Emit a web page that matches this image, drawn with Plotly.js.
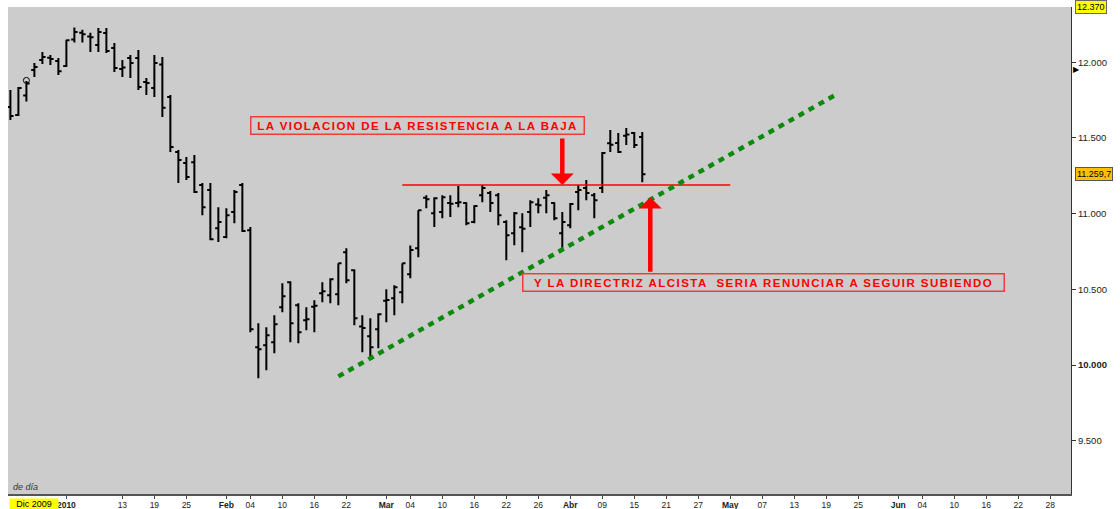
<!DOCTYPE html>
<html>
<head>
<meta charset="utf-8">
<script src="https://cdn.plot.ly/plotly-3.0.1.min.js"></script>
<style>
html,body{margin:0;padding:0;background:#ffffff;}
#chart{width:1120px;height:509px;}
text.annotation-text[style*="254, 0, 0"]{letter-spacing:1.45px;}
</style>
</head>
<body>
<div id="chart"></div>
<script>
// ---- data (IBEX 35, daily bars) ----
const dates = ['2009-12-22','2009-12-23','2009-12-24','2009-12-28','2009-12-29','2009-12-30','2009-12-31',
'2010-01-04','2010-01-05','2010-01-06','2010-01-07','2010-01-08','2010-01-11','2010-01-12','2010-01-13','2010-01-14','2010-01-15',
'2010-01-18','2010-01-19','2010-01-20','2010-01-21','2010-01-22','2010-01-25','2010-01-26','2010-01-27','2010-01-28','2010-01-29',
'2010-02-01','2010-02-02','2010-02-03','2010-02-04','2010-02-05','2010-02-08','2010-02-09','2010-02-10','2010-02-11','2010-02-12',
'2010-02-15','2010-02-16','2010-02-17','2010-02-18','2010-02-19','2010-02-22','2010-02-23','2010-02-24','2010-02-25','2010-02-26',
'2010-03-01','2010-03-02','2010-03-03','2010-03-04','2010-03-05','2010-03-08','2010-03-09','2010-03-10','2010-03-11','2010-03-12',
'2010-03-15','2010-03-16','2010-03-17','2010-03-18','2010-03-19','2010-03-22','2010-03-23','2010-03-24','2010-03-25','2010-03-26',
'2010-03-29','2010-03-30','2010-03-31','2010-04-01','2010-04-06','2010-04-07','2010-04-08','2010-04-09',
'2010-04-12','2010-04-13','2010-04-14','2010-04-15','2010-04-16'];
const openV = [11704,11651,11780,11949,12015,12030,12008,
11975,12150,12195,12170,12114,12194,12094,11955,12028,12028,
11870,11830,11985,11770,11407,11334,11340,11189,11156,10904,
10845,11010,11189,10891,10117,10130,10150,10382,10547,10395,
10296,10385,10474,10461,10468,10745,10626,10255,10190,10236,
10425,10441,10481,10600,10772,11105,11003,11010,11070,11070,
11070,10944,11122,11136,11122,10944,10871,10910,11010,11060,
11105,11070,10871,10924,11143,11169,11122,11169,
11465,11466,11515,11532,11506];
const highV = [11817,11837,11877,11995,12068,12048,12028,
12148,12230,12215,12195,12227,12227,12128,12015,12048,12081,
11896,12048,12035,11784,11420,11374,11387,11202,11202,11043,
11036,11156,11202,10911,10276,10249,10329,10540,10553,10408,
10382,10428,10547,10573,10673,10772,10633,10329,10309,10342,
10501,10527,10673,10790,11023,11122,11109,11122,11122,11182,
11076,11056,11189,11149,11136,10957,11010,11003,11089,11102,
11156,11076,11010,11070,11189,11222,11136,11407,
11552,11532,11565,11539,11539];
const lowV = [11618,11645,11740,11902,11988,11982,11916,
11968,12130,12130,12068,12068,12061,11936,11902,11896,11817,
11784,11770,11638,11407,11202,11222,11136,10990,10825,10812,
10838,10937,10878,10216,9912,9965,10077,10348,10150,10143,
10229,10216,10415,10408,10395,10540,10263,10084,10051,10110,
10283,10329,10408,10573,10712,11036,10911,10970,10977,11043,
10924,10937,11076,11010,10924,10692,10792,10745,10911,11003,
11003,10957,10759,10904,11023,11089,10970,11136,
11407,11400,11453,11433,11208];
const closeV = [11645,11830,11860,11969,12035,12022,11940,
12145,12200,12185,12165,12200,12074,11962,11965,11995,11837,
11863,11995,11700,11440,11354,11242,11143,11043,10830,10944,
10990,11143,10885,10236,10104,10196,10269,10454,10276,10216,
10302,10392,10487,10567,10673,10560,10309,10245,10117,10335,
10430,10514,10673,10760,11023,11095,11102,11109,11065,11076,
10937,11050,11169,11070,10990,10858,11003,10900,11076,11056,
11122,10970,10944,11063,11156,11136,11089,11400,
11455,11407,11522,11453,11259.7];

const holidays = ['2009-12-25','2010-01-01','2010-04-02','2010-04-05'];
const eventDates = ['2009-12-24'];
const eventValues = [11880];

const tickDates = ['2010-01-04','2010-01-13','2010-01-19','2010-01-25','2010-02-01','2010-02-04','2010-02-10','2010-02-16','2010-02-22',
'2010-03-01','2010-03-04','2010-03-10','2010-03-16','2010-03-22','2010-03-26','2010-04-01','2010-04-09','2010-04-15','2010-04-21',
'2010-04-27','2010-05-03','2010-05-07','2010-05-13','2010-05-19','2010-05-25','2010-06-01','2010-06-04','2010-06-10','2010-06-16',
'2010-06-22','2010-06-28'];
const tickLabels = ['<b>2010</b>','13','19','25','<b>Feb</b>','04','10','16','22','<b>Mar</b>','04','10','16','22','26','<b>Abr</b>',
'09','15','21','27','<b>May</b>','07','13','19','25','<b>Jun</b>','04','10','16','22','28'];
const yTickVals = [9500,10000,10500,11000,11500,12000];
const yTickText = ['9.500','<b>10.000</b>','10.500','11.000','11.500','12.000'];

const resistanceDates = ['2010-03-03','2010-05-03'];
const resistanceLevel = 11189;
const trendDates = ['2010-02-19','2010-05-20'];
const trendValues = [9925,11780];

const noteTop = 'LA VIOLACION DE LA RESISTENCIA A LA BAJA';
const noteBottom = 'Y LA DIRECTRIZ ALCISTA \u00a0SERIA RENUNCIAR A SEGUIR SUBIENDO';
const rangeTop = '12.370';
const lastLabel = '11.259,7';

const mid = d => d + ' 12:00';
const FONT = 'Liberation Sans, Arial, sans-serif';
const lastClose = closeV[closeV.length - 1];

const traces = [
  {
    type: 'ohlc',
    x: dates.map(mid), open: openV, high: highV, low: lowV, close: closeV,
    increasing: {line: {color: '#000000', width: 2}},
    decreasing: {line: {color: '#000000', width: 2}},
    tickwidth: 0.4, hoverinfo: 'skip', showlegend: false
  },
  {
    type: 'scatter', mode: 'markers',
    x: eventDates.map(mid), y: eventValues,
    marker: {symbol: 'circle-open', size: 6, color: '#000000', line: {width: 1}},
    hoverinfo: 'skip', showlegend: false
  }
];

const redFont = {family: FONT, size: 11.5, weight: 'bold', color: 'rgb(254,0,0)'};

const layout = {
  width: 1120, height: 509,
  margin: {l: 8, r: 49, t: 7, b: 15, pad: 0},
  paper_bgcolor: '#ffffff', plot_bgcolor: '#cccccc',
  showlegend: false,
  xaxis: {
    type: 'date',
    range: ['2009-12-22 04:48', '2010-07-01 02:24'],
    rangebreaks: [{bounds: ['sat', 'mon']}, {values: holidays}],
    rangeslider: {visible: false},
    tickmode: 'array', tickvals: tickDates.map(mid), ticktext: tickLabels,
    ticks: 'outside', ticklen: 3, tickcolor: '#444', tickwidth: 1,
    ticklabelstandoff: -1,
    tickfont: {family: FONT, size: 8.5, color: '#222'},
    showline: true, linecolor: '#555', linewidth: 1.5,
    showgrid: false, zeroline: false, fixedrange: true
  },
  yaxis: {
    side: 'right',
    range: [9148, 12365],
    tickmode: 'array', tickvals: yTickVals, ticktext: yTickText,
    ticks: 'outside', ticklen: 4, tickcolor: '#333', tickwidth: 1,
    tickfont: {family: FONT, size: 9.5, color: '#222'},
    showline: true, linecolor: '#333', linewidth: 1,
    showgrid: false, zeroline: false, fixedrange: true
  },
  shapes: [
    {type: 'line', xref: 'x', yref: 'y', layer: 'above',
     x0: mid(resistanceDates[0]), x1: mid(resistanceDates[1]), y0: resistanceLevel, y1: resistanceLevel,
     line: {color: '#ff0000', width: 1.5}},
    {type: 'line', xref: 'x', yref: 'y', layer: 'above',
     x0: mid(trendDates[0]), x1: mid(trendDates[1]), y0: trendValues[0], y1: trendValues[1],
     line: {color: '#0b8a0b', width: 4.5, dash: '6px,5.5px'}}
  ],
  annotations: [
    {xref: 'x', yref: 'y', x: mid('2010-02-04'), y: 11582, xanchor: 'left', yanchor: 'middle',
     text: noteTop, showarrow: false, font: redFont, align: 'center',
     width: 330, height: 14, bgcolor: 'rgba(0,0,0,0)', bordercolor: '#f03c3c', borderwidth: 1.5, borderpad: 1},
    {xref: 'x', yref: 'y', x: mid('2010-03-24'), y: 10544, xanchor: 'left', yanchor: 'middle',
     text: noteBottom, showarrow: false, font: redFont, align: 'center',
     width: 478, height: 14, bgcolor: 'rgba(0,0,0,0)', bordercolor: '#f03c3c', borderwidth: 1.5, borderpad: 1},
    {xref: 'x', yref: 'y', x: mid('2010-03-31'), y: resistanceLevel, text: '', showarrow: true,
     ax: 0, ay: -48, arrowhead: 1, arrowwidth: 4.5, arrowsize: 0.85, arrowcolor: '#ff0000', standoff: 0},
    {xref: 'x', yref: 'y', x: mid('2010-04-19'), y: 11109, text: '', showarrow: true,
     ax: 0, ay: 76, arrowhead: 1, arrowwidth: 4.5, arrowsize: 0.85, arrowcolor: '#ff0000', standoff: 0},
    {xref: 'paper', yref: 'paper', x: 0, y: 0, xanchor: 'left', yanchor: 'bottom', xshift: 3, yshift: 0,
     text: 'de día', showarrow: false, font: {family: FONT, size: 9, style: 'italic', color: '#333'}},
    {xref: 'paper', yref: 'paper', x: 0, y: 0, xanchor: 'left', yanchor: 'top', xshift: 1, yshift: -4,
     text: 'Dic 2009', showarrow: false, font: {family: FONT, size: 9, color: '#000'},
     bgcolor: '#ffff00', borderpad: 0, width: 48, height: 10},
    {xref: 'paper', yref: 'paper', x: 1, y: 1, xanchor: 'left', yanchor: 'middle', xshift: 4, yshift: 0,
     text: rangeTop, showarrow: false, font: {family: FONT, size: 9, color: '#000'},
     bgcolor: '#ffff00', bordercolor: '#666', borderwidth: 1, borderpad: 1},
    {xref: 'paper', yref: 'y', x: 1, y: lastClose, xanchor: 'left', yanchor: 'middle', xshift: 4,
     text: lastLabel, showarrow: false, font: {family: FONT, size: 9, color: '#000'},
     bgcolor: '#ffc000', bordercolor: '#555', borderwidth: 1, borderpad: 1},
    {xref: 'paper', yref: 'y', x: 1, y: 11950, xanchor: 'left', yanchor: 'middle', xshift: 0,
     text: '▶', showarrow: false, font: {family: 'DejaVu Sans', size: 8, color: '#000'}}
  ]
};

Plotly.newPlot('chart', traces, layout, {displayModeBar: false, staticPlot: true});
</script>
</body>
</html>
